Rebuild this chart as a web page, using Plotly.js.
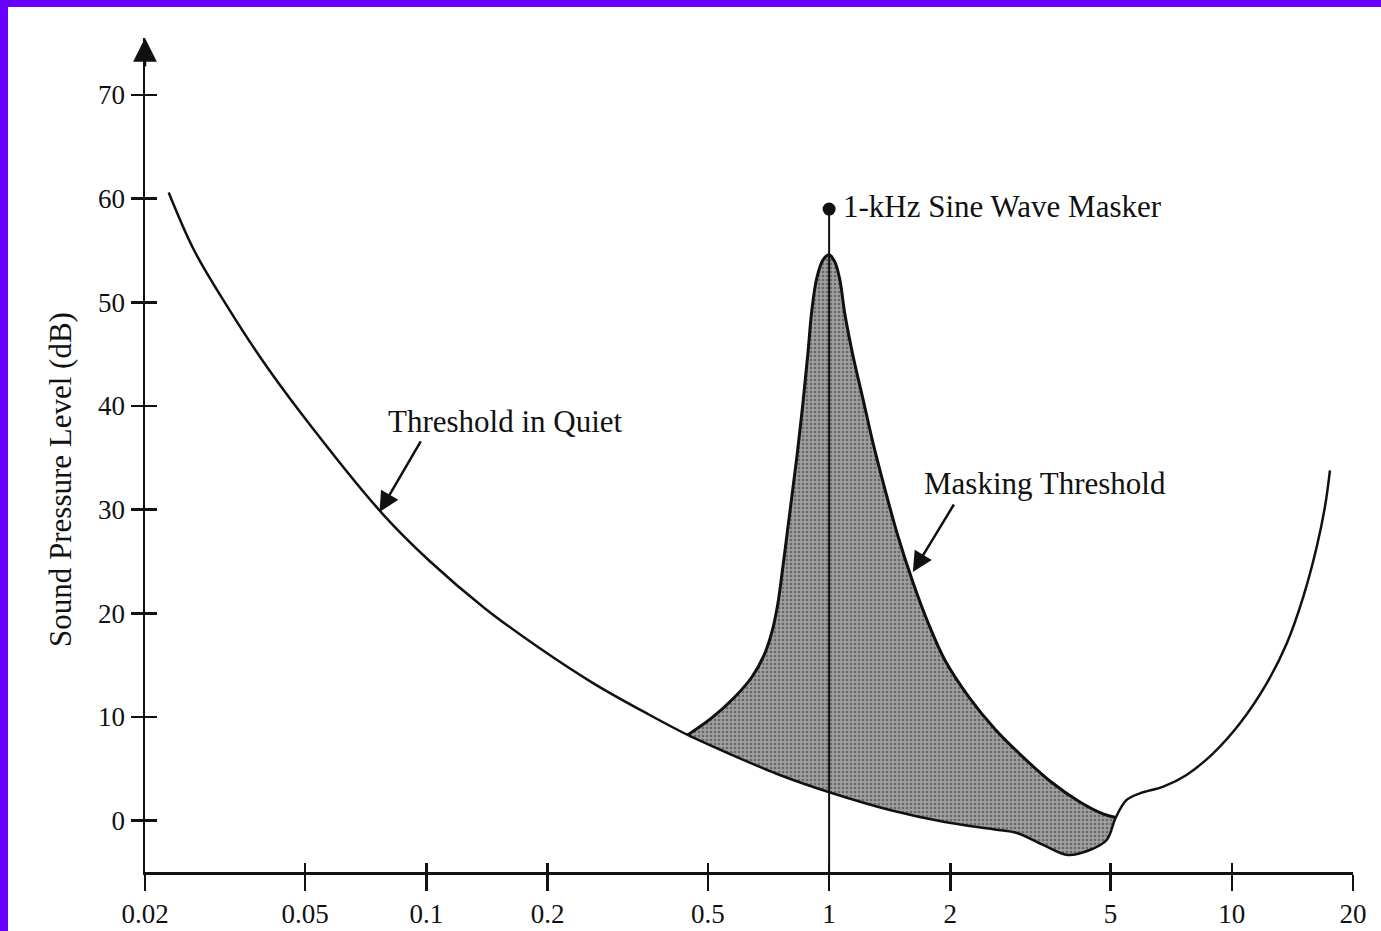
<!DOCTYPE html>
<html>
<head>
<meta charset="utf-8">
<script src="https://cdn.plot.ly/plotly-3.0.1.min.js"></script>
<style>
  html, body { margin: 0; padding: 0; background: #ffffff; }
  #wrap { position: relative; width: 1381px; height: 931px; overflow: hidden; }
  #chart { position: absolute; left: 0; top: 0; width: 1381px; height: 931px; }
  #bandTop { position: absolute; left: 0; top: 0; width: 1381px; height: 7px; background: #6600ff; }
  #bandLeft { position: absolute; left: 0; top: 0; width: 8px; height: 931px; background: #6600ff; }
</style>
</head>
<body>
<div id="wrap">
  <div id="chart"></div>
  <div id="bandTop"></div>
  <div id="bandLeft"></div>
</div>
<script>
// ---- Data (frequency in kHz, level in dB SPL) ----
const tickFreqs = [0.02, 0.05, 0.1, 0.2, 0.5, 1, 2, 5, 10, 20];
const tickLabels = ["0.02", "0.05", "0.1", "0.2", "0.5", "1", "2", "5", "10", "20"];
const dbTicks = [0, 10, 20, 30, 40, 50, 60, 70];

// Threshold in quiet
const tiqFreq = [0.0229, 0.0265, 0.0319, 0.0385, 0.0484, 0.0778, 0.1018, 0.1395, 0.190, 0.2586, 0.3544,
                 0.4455, 0.567, 0.754, 1.015, 1.415, 1.938, 2.580, 2.926,
                 3.40, 3.92, 4.44, 4.89, 5.15, 5.48, 5.91, 6.76, 7.72, 8.99,
                 10.48, 12.21, 13.69, 15.05, 16.25, 17.04, 17.53];
const tiqDb   = [60.6, 55.0, 49.7, 44.8, 39.5, 29.6, 25.05, 20.5, 16.7, 13.3, 10.3,
                 8.27, 6.43, 4.41, 2.67, 1.03, -0.13, -0.85, -1.19,
                 -2.34, -3.31, -2.83, -1.86, 0.3, 2.0, 2.64, 3.28, 4.41, 6.5,
                 9.4, 13.25, 17.1, 21.6, 26.4, 30.3, 33.8];

// Masking threshold produced by the 1-kHz masker
const maskFreq = [0.4455, 0.511, 0.583, 0.643, 0.688, 0.720, 0.745, 0.767, 0.799, 0.831, 0.860,
                  0.885, 0.906, 0.932, 0.965, 1.0, 1.033, 1.063, 1.094, 1.147, 1.215,
                  1.286, 1.367, 1.482, 1.614, 1.758, 1.938, 2.236, 2.580, 2.976, 3.534,
                  4.196, 4.79, 5.15];
const maskDb   = [8.27, 9.91, 11.93, 13.86, 15.89, 18.11, 20.81, 24.38, 29.78, 34.99, 40.1,
                  44.92, 49.26, 52.35, 54.08, 54.6, 53.9, 52.2, 48.9, 44.8, 40.6,
                  36.4, 32.4, 27.46, 23.03, 19.17, 15.5, 11.8, 8.85, 6.43, 3.83,
                  1.80, 0.65, 0.3];

// Masker tone
const maskerFreq = 1;
const maskerDb = 59;

// ---- Derived ----
const yMin = -4.95, yMax = 75.5;
const xRange = [Math.log10(0.02), Math.log10(20)];
const fLo = maskFreq[0], fHi = maskFreq[maskFreq.length - 1];
const segIdx = tiqFreq.map((f, i) => i).filter(i => tiqFreq[i] >= fLo && tiqFreq[i] <= fHi);
const segFreq = segIdx.map(i => tiqFreq[i]);
const segDb = segIdx.map(i => tiqDb[i]);

const serif = "Liberation Serif, Times New Roman, serif";
const ink = "#111111";

const traces = [
  { x: segFreq, y: segDb, mode: "lines", line: { color: "rgba(0,0,0,0)", width: 0, shape: "spline", smoothing: 1 },
    hoverinfo: "skip" },
  { x: maskFreq, y: maskDb, mode: "lines", fill: "tonexty",
    fillcolor: "#959595",
    fillpattern: { shape: ".", bgcolor: "#a0a0a0", fgcolor: "#686868", size: 4, solidity: 0.35 },
    line: { color: ink, width: 3, shape: "spline", smoothing: 1 } },
  { x: tiqFreq, y: tiqDb, mode: "lines", line: { color: ink, width: 2.5, shape: "spline", smoothing: 1 } },
  { x: [maskerFreq, maskerFreq], y: [yMin, maskerDb], mode: "lines", xaxis: "x2", yaxis: "y2",
    line: { color: ink, width: 2 } },
  { x: [maskerFreq], y: [maskerDb], mode: "markers", xaxis: "x2", yaxis: "y2",
    marker: { color: ink, size: 13 } }
];

const axCommon = { showgrid: false, zeroline: false, linecolor: ink, tickcolor: ink, tickwidth: 2.5 };

const layout = {
  width: 1381, height: 931,
  margin: { l: 145, r: 28, t: 38, b: 59 },
  paper_bgcolor: "#ffffff", plot_bgcolor: "rgba(0,0,0,0)",
  showlegend: false,
  font: { family: serif, color: ink },
  xaxis: Object.assign({}, axCommon, {
    type: "log", range: xRange, tickmode: "array", tickvals: tickFreqs, ticktext: tickLabels,
    ticks: "outside", ticklen: 16, showline: true, linewidth: 2.5,
    tickfont: { family: serif, size: 27, color: ink }, ticklabelstandoff: 0
  }),
  xaxis2: Object.assign({}, axCommon, {
    type: "log", range: xRange, overlaying: "x", anchor: "y2", side: "bottom",
    tickmode: "array", tickvals: tickFreqs, ticks: "inside", ticklen: 9, showticklabels: false, showline: false
  }),
  yaxis: Object.assign({}, axCommon, {
    range: [yMin, yMax], tickmode: "array", tickvals: dbTicks, ticks: "outside", ticklen: 12,
    showline: true, linewidth: 2.5, tickfont: { family: serif, size: 27, color: ink }
  }),
  yaxis2: Object.assign({}, axCommon, {
    range: [yMin, yMax], overlaying: "y", anchor: "x2", side: "left",
    tickmode: "array", tickvals: dbTicks, ticks: "inside", ticklen: 12, showticklabels: false, showline: false
  }),
  annotations: [
    // y-axis arrow head
    { xref: "x", yref: "y", x: xRange[0], y: yMax, ax: 0, ay: 30, text: "", showarrow: true,
      arrowhead: 2, arrowsize: 1.9, arrowwidth: 2.5, arrowcolor: ink },
    // y-axis title
    { xref: "paper", yref: "paper", x: -0.0704, y: 0.4712, text: "Sound Pressure Level (dB)",
      textangle: -90, showarrow: false, xanchor: "center", yanchor: "middle",
      font: { family: serif, size: 31, color: ink } },
    // Threshold in Quiet label + arrow
    { xref: "x", yref: "y", x: Math.log10(0.1573), y: 38.46, text: "Threshold in Quiet", showarrow: false,
      xanchor: "center", yanchor: "middle", font: { family: serif, size: 31, color: ink } },
    { xref: "x", yref: "y", x: Math.log10(0.0765), y: 29.78, ax: 42, ay: -72, text: "", showarrow: true,
      arrowhead: 2, arrowsize: 1.6, arrowwidth: 2.5, arrowcolor: ink },
    // Masking Threshold label + arrow
    { xref: "x", yref: "y", x: Math.log10(3.434), y: 32.48, text: "Masking Threshold", showarrow: false,
      xanchor: "center", yanchor: "middle", font: { family: serif, size: 31, color: ink } },
    { xref: "x", yref: "y", x: Math.log10(1.614), y: 23.99, ax: 42, ay: -69, text: "", showarrow: true,
      arrowhead: 2, arrowsize: 1.6, arrowwidth: 2.5, arrowcolor: ink },
    // Masker label
    { xref: "x", yref: "y", x: Math.log10(maskerFreq), y: maskerDb + 0.2, xshift: 12, text: "1-kHz Sine Wave Masker",
      showarrow: false, xanchor: "left", yanchor: "middle", font: { family: serif, size: 31, color: ink } }
  ]
};

Plotly.newPlot("chart", traces, layout, { displayModeBar: false, staticPlot: true });
</script>
</body>
</html>
